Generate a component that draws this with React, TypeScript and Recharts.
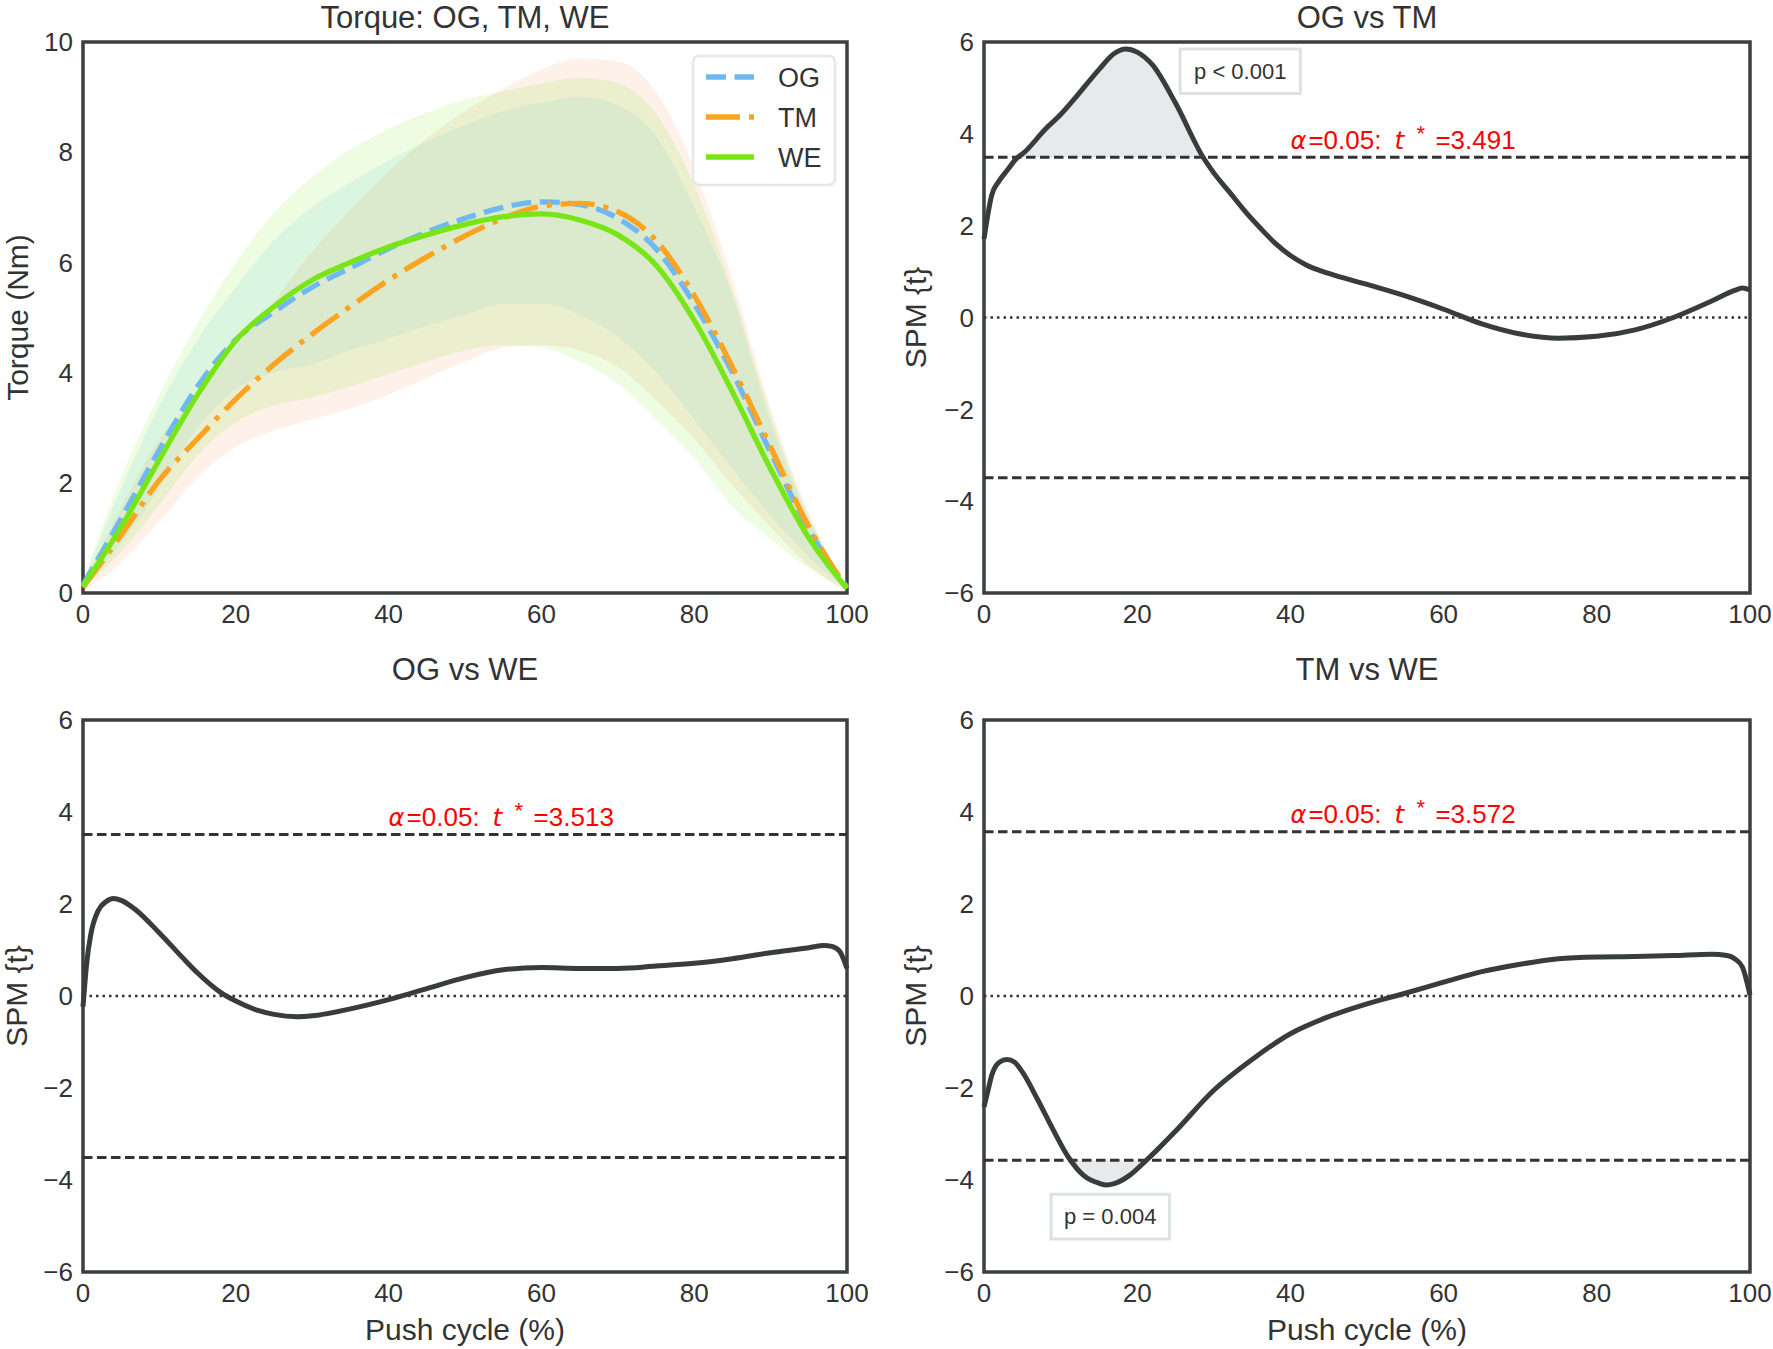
import React from 'react';
import {
  ComposedChart,
  Line,
  Area,
  XAxis,
  YAxis,
  ReferenceLine,
  ReferenceArea,
} from 'recharts';

const FONT = '"Liberation Sans", Arial, Helvetica, sans-serif';
const INK = '#333333';
const FRAME = '#3c3f3f';
const SPM_LINE = '#393c3c';
const CLUSTER_FILL = '#e6eaea';
const BOX_EDGE = '#dde3e3';

// ---- ticks ----
const cycleTicks = [0, 20, 40, 60, 80, 100];
const torqueTicks = [0, 2, 4, 6, 8, 10];
const spmTicks = [-6, -4, -2, 0, 2, 4, 6];

// ---- torque panel (mean and +/- SD band), sampled every 5 % of the push cycle ----
const torqueCycle = [0, 5, 10, 15, 20, 25, 30, 35, 40, 45, 50, 55, 60, 65, 70, 75, 80, 85, 90, 95, 100];

const ogMean = [0.15, 1.35, 2.6, 3.75, 4.6, 5.1, 5.55, 5.9, 6.25, 6.55, 6.8, 7.0, 7.1, 7.05, 6.8, 6.25, 5.25, 4.0, 2.55, 1.15, 0.1];
const ogLow = [0.1, 0.9, 1.9, 3.0, 3.7, 4.0, 4.15, 4.4, 4.62, 4.85, 5.05, 5.25, 5.25, 5.05, 4.65, 4.0, 3.15, 2.25, 1.4, 0.65, 0.05];
const ogHigh = [0.2, 1.9, 3.4, 4.6, 5.55, 6.4, 7.0, 7.45, 7.85, 8.2, 8.5, 8.75, 8.9, 9.0, 8.85, 8.3, 7.0, 5.4, 3.1, 1.35, 0.1];

const tmMean = [0.1, 1.05, 2.05, 2.8, 3.52, 4.15, 4.7, 5.2, 5.68, 6.1, 6.48, 6.8, 7.02, 7.07, 6.92, 6.4, 5.4, 4.1, 2.65, 1.2, 0.08];
const tmLow = [0.05, 0.55, 1.3, 2.1, 2.65, 2.95, 3.15, 3.35, 3.6, 3.9, 4.2, 4.45, 4.5, 4.4, 4.1, 3.5, 2.8, 1.95, 1.2, 0.5, 0.03];
const tmHigh = [0.15, 1.55, 2.8, 3.6, 4.45, 5.3, 6.2, 6.95, 7.65, 8.25, 8.75, 9.15, 9.5, 9.7, 9.65, 9.1, 7.7, 5.7, 3.35, 1.45, 0.1];

const weMean = [0.12, 1.2, 2.42, 3.6, 4.58, 5.2, 5.68, 6.0, 6.28, 6.5, 6.69, 6.83, 6.88, 6.77, 6.5, 5.95, 4.95, 3.65, 2.25, 1.0, 0.08];
const weLow = [0.1, 0.75, 1.6, 2.5, 3.1, 3.4, 3.55, 3.75, 3.98, 4.2, 4.4, 4.5, 4.45, 4.2, 3.8, 3.15, 2.45, 1.57, 0.98, 0.45, 0.05];
const weHigh = [0.2, 2.1, 3.6, 4.9, 6.0, 6.9, 7.55, 8.05, 8.42, 8.72, 8.95, 9.1, 9.25, 9.35, 9.25, 8.7, 7.4, 5.5, 3.25, 1.4, 0.1];

// ---- SPM{t} curves ----
const ogTmX = [0, 1, 2, 3, 4.4, 5, 8, 10, 12, 15, 17, 18.5, 20, 22, 25, 28.6, 30, 32, 34, 36, 38, 40, 42, 45, 50, 55, 60, 65, 70, 75, 80, 85, 90, 95, 98, 99, 100];
const ogTmT = [1.71, 2.66, 2.98, 3.2, 3.49, 3.56, 4.1, 4.42, 4.8, 5.4, 5.75, 5.85, 5.78, 5.5, 4.67, 3.49, 3.15, 2.74, 2.33, 1.96, 1.62, 1.35, 1.15, 0.96, 0.72, 0.47, 0.18, -0.14, -0.36, -0.45, -0.41, -0.27, 0.0, 0.36, 0.59, 0.64, 0.6];
const ogTmCrit = 3.491;

const ogWeX = [0, 0.5, 1, 2, 3, 4, 5, 7, 10, 13, 15, 18, 20, 23, 25, 28, 30, 35, 40, 45, 50, 55, 60, 65, 70, 75, 80, 85, 90, 95, 97, 98, 99, 100];
const ogWeT = [-0.23, 0.74, 1.32, 1.86, 2.05, 2.12, 2.08, 1.86, 1.37, 0.84, 0.5, 0.08, -0.11, -0.32, -0.4, -0.45, -0.43, -0.28, -0.08, 0.16, 0.4, 0.57, 0.62, 0.6, 0.6, 0.65, 0.71, 0.81, 0.94, 1.05, 1.1, 1.08, 0.98, 0.6];
const ogWeCrit = 3.513;

const tmWeX = [0, 0.5, 1, 2, 3, 4, 5, 7, 9, 11, 13, 15, 16, 17, 19, 21.2, 23, 25, 30, 35, 40, 45, 50, 53.7, 55, 60, 65, 70, 75, 80, 85, 90, 95, 97, 98, 99, 100];
const tmWeT = [-2.41, -2.07, -1.73, -1.44, -1.38, -1.44, -1.65, -2.25, -2.9, -3.5, -3.9, -4.07, -4.11, -4.08, -3.9, -3.57, -3.28, -2.94, -2.05, -1.38, -0.82, -0.45, -0.17, 0.0, 0.06, 0.3, 0.53, 0.69, 0.81, 0.85, 0.86, 0.88, 0.91, 0.88, 0.81, 0.63, 0.02];
const tmWeCrit = 3.572;

const torqueSeries = [
  { key: 'og', name: 'OG', color: '#6fb8f2', band: '#5ec8f8', bandOpacity: 0.13, dash: '20 8.5' },
  { key: 'tm', name: 'TM', color: '#fca31f', band: '#f08a50', bandOpacity: 0.12, dash: '34 9 5 9' },
  { key: 'we', name: 'WE', color: '#78e616', band: '#78e616', bandOpacity: 0.13, dash: undefined as string | undefined },
];

const torqueRows = torqueCycle.map((x, i) => ({
  x,
  og: ogMean[i],
  tm: tmMean[i],
  we: weMean[i],
  ogBand: [ogLow[i], ogHigh[i]],
  tmBand: [tmLow[i], tmHigh[i]],
  weBand: [weLow[i], weHigh[i]],
}));

const tickStyle = { fontSize: 26, fill: INK, fontFamily: FONT };
const fmtSigned = (v: number) => (v < 0 ? `\u2212${-v}` : `${v}`);

// red "alpha=0.05: t*=..." text sitting above the upper critical line, starting at 40 % of the cycle
const CritLabel = (props: any) => {
  const { viewBox, crit } = props;
  const x0 = viewBox.x + viewBox.width * 0.4;
  const y = viewBox.y - 8.5;
  return (
    <text y={y} fill="#ff0000" fontSize={26} fontFamily={FONT}>
      <tspan x={x0} fontStyle="italic" fontFamily='"DejaVu Sans", sans-serif' fontSize={24}>α</tspan>
      <tspan x={x0 + 18}>=0.05:</tspan>
      <tspan x={x0 + 104} fontStyle="italic" fontFamily='"DejaVu Sans", sans-serif' fontSize={25}>t</tspan>
      <tspan x={x0 + 126} dy={-8} fontSize={22}>*</tspan>
      <tspan x={x0 + 145} dy={8}>={crit.toFixed(3)}</tspan>
    </text>
  );
};

type SpmProps = {
  xs: number[];
  ts: number[];
  crit: number;
  cluster?: 'up' | 'down';
  pText?: string;
  pBox?: { x1: number; x2: number; y1: number; y2: number };
  left: number;
  top: number;
  width: number;
  height: number;
  yAxisW: number;
  mTop: number;
  mRight: number;
  xAxisH: number;
};

function SpmPanel(p: SpmProps) {
  const rows = p.xs.map((x, i) => {
    const t = p.ts[i];
    let band: number[] = [p.crit, p.crit];
    if (p.cluster === 'up') band = t > p.crit ? [p.crit, t] : [p.crit, p.crit];
    if (p.cluster === 'down') band = t < -p.crit ? [t, -p.crit] : [-p.crit, -p.crit];
    return { x, t, band };
  });

  return (
    <div style={{ position: 'absolute', left: p.left, top: p.top }}>
      <ComposedChart
        width={p.width}
        height={p.height}
        data={rows}
        margin={{ top: p.mTop, right: p.mRight, bottom: 0, left: 0 }}
      >
        <XAxis
          type="number"
          dataKey="x"
          domain={[0, 100]}
          ticks={cycleTicks}
          interval={0}
          tickLine={false}
          axisLine={false}
          tickSize={0}
          tickMargin={12}
          tick={tickStyle}
          height={p.xAxisH}
        />
        <YAxis
          type="number"
          domain={[-6, 6]}
          ticks={spmTicks}
          interval={0}
          tickLine={false}
          axisLine={false}
          tickSize={0}
          tickMargin={10}
          tick={tickStyle}
          width={p.yAxisW}
          tickFormatter={fmtSigned}
        />
        {p.cluster && (
          <Area
            dataKey="band"
            type="monotone"
            stroke="none"
            fill={CLUSTER_FILL}
            fillOpacity={1}
            isAnimationActive={false}
            activeDot={false}
          />
        )}
        <ReferenceLine y={0} stroke={INK} strokeWidth={2.5} strokeDasharray="2.5 4" />
        <ReferenceLine
          y={p.crit}
          stroke={INK}
          strokeWidth={3}
          strokeDasharray="9.5 4.5"
          label={<CritLabel crit={p.crit} />}
        />
        <ReferenceLine y={-p.crit} stroke={INK} strokeWidth={3} strokeDasharray="9.5 4.5" />
        <Line
          dataKey="t"
          type="monotone"
          stroke={SPM_LINE}
          strokeWidth={5}
          dot={false}
          activeDot={false}
          isAnimationActive={false}
        />
        {p.pBox && (
          <ReferenceArea
            x1={p.pBox.x1}
            x2={p.pBox.x2}
            y1={p.pBox.y1}
            y2={p.pBox.y2}
            fill="#ffffff"
            fillOpacity={1}
            stroke={BOX_EDGE}
            strokeWidth={3}
            ifOverflow="visible"
            label={{ value: p.pText, position: 'center', fontSize: 22, fill: INK, fontFamily: FONT }}
          />
        )}
        <ReferenceArea
          x1={0}
          x2={100}
          y1={-6}
          y2={6}
          fill="none"
          fillOpacity={0}
          stroke={FRAME}
          strokeWidth={3.5}
          ifOverflow="visible"
        />
      </ComposedChart>
    </div>
  );
}

function TorquePanel() {
  return (
    <div style={{ position: 'absolute', left: 0, top: 0 }}>
      <ComposedChart
        width={880}
        height={660}
        data={torqueRows}
        margin={{ top: 42, right: 33, bottom: 0, left: 0 }}
      >
        <XAxis
          type="number"
          dataKey="x"
          domain={[0, 100]}
          ticks={cycleTicks}
          interval={0}
          tickLine={false}
          axisLine={false}
          tickSize={0}
          tickMargin={12}
          tick={tickStyle}
          height={67}
        />
        <YAxis
          type="number"
          domain={[0, 10]}
          ticks={torqueTicks}
          interval={0}
          tickLine={false}
          axisLine={false}
          tickSize={0}
          tickMargin={10}
          tick={tickStyle}
          width={83}
        />
        {torqueSeries.map((s) => (
          <Area
            key={s.key + 'Band'}
            dataKey={s.key + 'Band'}
            type="monotone"
            stroke="none"
            fill={s.band}
            fillOpacity={s.bandOpacity}
            isAnimationActive={false}
            activeDot={false}
            legendType="none"
          />
        ))}
        {torqueSeries.map((s) => (
          <Line
            key={s.key}
            dataKey={s.key}
            name={s.name}
            type="monotone"
            stroke={s.color}
            strokeWidth={5.3}
            strokeDasharray={s.dash}
            dot={false}
            activeDot={false}
            isAnimationActive={false}
          />
        ))}
        <ReferenceArea
          x1={0}
          x2={100}
          y1={0}
          y2={10}
          fill="none"
          fillOpacity={0}
          stroke={FRAME}
          strokeWidth={3.5}
          ifOverflow="visible"
        />
      </ComposedChart>
    </div>
  );
}

const titleStyle = { fontSize: 31, fill: INK, fontFamily: FONT };
const labelStyle = { fontSize: 30, fill: INK, fontFamily: FONT };

export default function App() {
  return (
    <div
      style={{
        position: 'absolute',
        left: 0,
        top: 0,
        width: 1773,
        height: 1349,
        background: '#ffffff',
        overflow: 'hidden',
      }}
    >
      <TorquePanel />
      <SpmPanel
        xs={ogTmX}
        ts={ogTmT}
        crit={ogTmCrit}
        cluster="up"
        pText="p < 0.001"
        pBox={{ x1: 25.6, x2: 41.3, y1: 4.88, y2: 5.85 }}
        left={880}
        top={0}
        width={893}
        height={660}
        yAxisW={104}
        mTop={42}
        mRight={23}
        xAxisH={67}
      />
      <SpmPanel
        xs={ogWeX}
        ts={ogWeT}
        crit={ogWeCrit}
        left={0}
        top={660}
        width={880}
        height={689}
        yAxisW={83}
        mTop={60}
        mRight={33}
        xAxisH={77}
      />
      <SpmPanel
        xs={tmWeX}
        ts={tmWeT}
        crit={tmWeCrit}
        cluster="down"
        pText="p = 0.004"
        pBox={{ x1: 8.75, x2: 24.2, y1: -5.28, y2: -4.31 }}
        left={880}
        top={660}
        width={893}
        height={689}
        yAxisW={104}
        mTop={60}
        mRight={23}
        xAxisH={77}
      />

      <svg
        width={1773}
        height={1349}
        style={{ position: 'absolute', left: 0, top: 0, pointerEvents: 'none' }}
      >
        {/* panel titles */}
        <text x={465} y={28} textAnchor="middle" {...titleStyle}>Torque: OG, TM, WE</text>
        <text x={1367} y={28} textAnchor="middle" {...titleStyle}>OG vs TM</text>
        <text x={465} y={680} textAnchor="middle" {...titleStyle}>OG vs WE</text>
        <text x={1367} y={680} textAnchor="middle" {...titleStyle}>TM vs WE</text>

        {/* axis labels */}
        <text transform="translate(28,317.5) rotate(-90)" textAnchor="middle" {...labelStyle}>Torque (Nm)</text>
        <text transform="translate(926,317.5) rotate(-90)" textAnchor="middle" {...labelStyle}>SPM {'{t}'}</text>
        <text transform="translate(27,996) rotate(-90)" textAnchor="middle" {...labelStyle}>SPM {'{t}'}</text>
        <text transform="translate(926,996) rotate(-90)" textAnchor="middle" {...labelStyle}>SPM {'{t}'}</text>
        <text x={465} y={1340} textAnchor="middle" {...labelStyle}>Push cycle (%)</text>
        <text x={1367} y={1340} textAnchor="middle" {...labelStyle}>Push cycle (%)</text>

        {/* legend of the torque panel */}
        <rect x={693} y={56} width={142} height={129} rx={6} fill="#ffffff" fillOpacity={0.85} stroke="#e3e8e8" strokeWidth={2.5} />
        {torqueSeries.map((s, i) => {
          const y = 77 + i * 40;
          return (
            <g key={s.key}>
              <line x1={706} x2={754} y1={y} y2={y} stroke={s.color} strokeWidth={5.3} strokeDasharray={s.dash} />
              <text x={778} y={y + 10} fontSize={27} fill={INK} fontFamily={FONT}>{s.name}</text>
            </g>
          );
        })}
      </svg>
    </div>
  );
}
